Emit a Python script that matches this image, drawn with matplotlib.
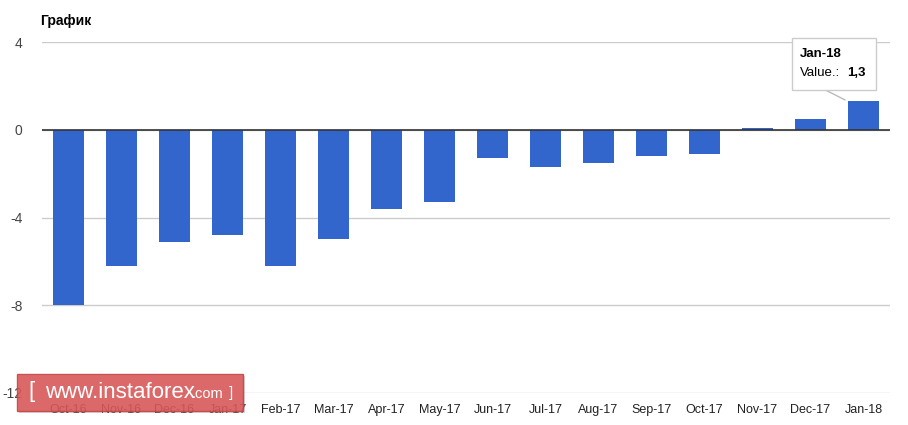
import matplotlib.pyplot as plt
from matplotlib.patches import Rectangle

plt.rcParams['font.family'] = ['Liberation Sans', 'DejaVu Sans']

# данные
months = ['Oct-16', 'Nov-16', 'Dec-16', 'Jan-17', 'Feb-17', 'Mar-17', 'Apr-17', 'May-17',
          'Jun-17', 'Jul-17', 'Aug-17', 'Sep-17', 'Oct-17', 'Nov-17', 'Dec-17', 'Jan-18']
values = [-8.0, -6.2, -5.1, -4.8, -6.2, -5.0, -3.6, -3.3,
          -1.3, -1.7, -1.5, -1.2, -1.1, 0.1, 0.5, 1.3]
y_ticks = [-12, -8, -4, 0, 4]

W, H = 908, 425
fig = plt.figure(figsize=(W / 100, H / 100), dpi=100)
ax = fig.add_axes([42 / W, (H - 393) / H, 848 / W, 351 / H])

x = list(range(len(months)))
ax.bar(x, values, width=0.6, color='#3366cc', zorder=3)

ax.set_xlim(-0.5, len(months) - 0.5)
ax.set_ylim(-12, 4)
ax.set_yticks(y_ticks)
ax.set_yticklabels([str(t) for t in y_ticks], fontsize=10, color='#444444')
ax.set_xticks(x)
ax.set_xticklabels(months, fontsize=9, color='#222222')
ax.tick_params(axis='x', length=0, pad=8)
ax.tick_params(axis='y', length=0, pad=14)

ax.grid(axis='y', color='#cccccc', linewidth=1, zorder=0)
ax.axhline(0, color='#333333', linewidth=1.2, zorder=4)
for s in ax.spines.values():
    s.set_visible(False)

fig.text(40 / W, 1 - 21 / H, 'График', fontsize=10, fontweight='bold', va='center', ha='left')

# подсказка
last = len(months) - 1
ax.annotate('', xy=(last - 0.3, values[last]), xytext=(last - 0.75, 1.85),
            arrowprops=dict(arrowstyle='-', color='#bbbbbb', lw=1), zorder=5)
tip = Rectangle((792 / W, 1 - 90 / H), 84 / W, 52 / H, transform=fig.transFigure,
                facecolor='white', edgecolor='#cccccc', linewidth=1, zorder=6)
fig.patches.append(tip)
fig.text(800 / W, 1 - 54 / H, 'Jan-18', fontsize=9.5, fontweight='bold', va='center', zorder=7)
fig.text(800 / W, 1 - 73 / H, 'Value.:', fontsize=9.5, va='center', zorder=7)
fig.text(847 / W, 1 - 73 / H, '1,3', fontsize=9.5, fontweight='bold', va='center', zorder=7)

# водяной знак
shadow = Rectangle((19 / W, 1 - 413 / H), 226 / W, 37 / H, transform=fig.transFigure,
                   facecolor='#999999', alpha=0.35, edgecolor='none', zorder=8)
fig.patches.append(shadow)
wm = Rectangle((17 / W, 1 - 411 / H), 226 / W, 37 / H, transform=fig.transFigure,
               facecolor='#dd5555', alpha=0.85, edgecolor='#c04040', zorder=8)
fig.patches.append(wm)
wm_kw = dict(color='white', va='center', ha='left', zorder=9)
fig.text(28 / W, 1 - 392 / H, '[', fontsize=16, **wm_kw)
fig.text(45 / W, 1 - 392 / H, 'www.instaforex', fontsize=16, **wm_kw)
fig.text(192 / W, 1 - 394 / H, '.com', fontsize=10.5, **wm_kw)
fig.text(229 / W, 1 - 393 / H, ']', fontsize=11, **wm_kw)

fig.savefig('out.png', dpi=100)
